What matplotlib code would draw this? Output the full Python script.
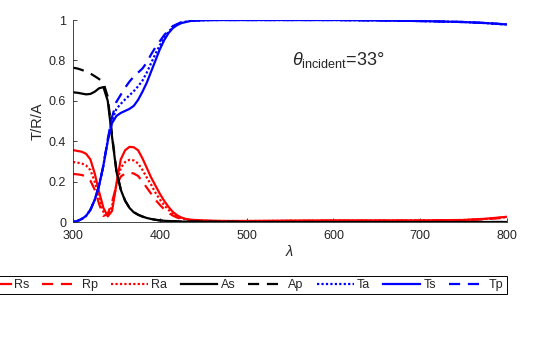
import matplotlib
matplotlib.use("Agg")
import matplotlib.pyplot as plt

plt.rcParams['font.family'] = ['Liberation Sans', 'DejaVu Sans']
plt.rcParams['mathtext.fontset'] = 'custom'
plt.rcParams['mathtext.rm'] = 'Liberation Sans'
plt.rcParams['mathtext.it'] = 'Liberation Sans:italic'

# wavelength grid (nm)
lam = [300, 305, 310, 315, 320, 325, 330, 335, 340, 345, 350, 355, 360, 365,
       370, 375, 380, 385, 390, 395, 400, 405, 410, 415, 420, 425, 430, 435,
       440, 460, 480, 500, 550, 600, 650, 700, 750, 775, 800]

Rs = [0.356, 0.352, 0.348, 0.338, 0.310, 0.240, 0.150, 0.070, 0.028, 0.055,
      0.190, 0.310, 0.355, 0.372, 0.370, 0.355, 0.315, 0.268, 0.220, 0.180,
      0.140, 0.105, 0.075, 0.050, 0.033, 0.022, 0.015, 0.012, 0.010, 0.006,
      0.005, 0.005, 0.007, 0.008, 0.008, 0.008, 0.010, 0.016, 0.026]
Rp = [0.238, 0.236, 0.233, 0.225, 0.205, 0.160, 0.090, 0.030, 0.040, 0.100,
      0.180, 0.225, 0.240, 0.245, 0.240, 0.228, 0.200, 0.170, 0.140, 0.110,
      0.085, 0.063, 0.045, 0.032, 0.022, 0.015, 0.011, 0.008, 0.007, 0.005,
      0.004, 0.004, 0.005, 0.006, 0.006, 0.007, 0.009, 0.014, 0.022]
Ra = [0.297, 0.294, 0.290, 0.280, 0.257, 0.200, 0.120, 0.050, 0.034, 0.078,
      0.185, 0.268, 0.297, 0.308, 0.305, 0.290, 0.258, 0.220, 0.185, 0.145,
      0.112, 0.084, 0.060, 0.041, 0.028, 0.018, 0.013, 0.010, 0.008, 0.005,
      0.005, 0.005, 0.006, 0.007, 0.007, 0.008, 0.010, 0.015, 0.024]
As = [0.642, 0.640, 0.636, 0.632, 0.634, 0.645, 0.662, 0.668, 0.600, 0.420,
      0.250, 0.160, 0.105, 0.070, 0.048, 0.036, 0.027, 0.020, 0.015, 0.011,
      0.008, 0.006, 0.005, 0.004, 0.003, 0.002, 0.002, 0.002, 0.002, 0.001,
      0.001, 0.000, 0.000, 0.000, 0.000, 0.000, 0.000, 0.000, 0.000]
Ap = [0.764, 0.760, 0.753, 0.745, 0.735, 0.722, 0.708, 0.690, 0.620, 0.430,
      0.255, 0.162, 0.106, 0.071, 0.049, 0.036, 0.027, 0.020, 0.015, 0.011,
      0.008, 0.006, 0.005, 0.004, 0.003, 0.002, 0.002, 0.002, 0.002, 0.001,
      0.001, 0.000, 0.000, 0.000, 0.000, 0.000, 0.000, 0.000, 0.000]
Ta = [0.000, 0.005, 0.015, 0.030, 0.060, 0.110, 0.180, 0.280, 0.405, 0.505,
      0.560, 0.585, 0.607, 0.627, 0.648, 0.672, 0.700, 0.740, 0.787, 0.833,
      0.875, 0.912, 0.942, 0.965, 0.978, 0.987, 0.992, 0.996, 0.997, 1.000,
      1.000, 1.000, 1.000, 1.000, 0.998, 0.995, 0.990, 0.985, 0.978]
Ts = [0.000, 0.005, 0.015, 0.030, 0.060, 0.110, 0.180, 0.280, 0.400, 0.490,
      0.525, 0.540, 0.550, 0.560, 0.575, 0.605, 0.645, 0.690, 0.745, 0.800,
      0.855, 0.900, 0.935, 0.960, 0.975, 0.985, 0.990, 0.995, 0.997, 1.000,
      1.000, 1.000, 1.000, 1.000, 0.998, 0.995, 0.990, 0.985, 0.978]
Tp = [0.000, 0.005, 0.015, 0.030, 0.060, 0.110, 0.180, 0.280, 0.410, 0.520,
      0.595, 0.630, 0.665, 0.695, 0.720, 0.740, 0.760, 0.790, 0.830, 0.865,
      0.895, 0.925, 0.950, 0.970, 0.980, 0.990, 0.995, 0.997, 0.998, 1.000,
      1.000, 1.000, 1.000, 1.000, 0.998, 0.995, 0.990, 0.985, 0.978]

grey = '#262626'
lw = 1.6
dash = (5, 3.5)
dot = (1, 1)

fig = plt.figure(figsize=(5.6, 3.37), dpi=100)
ax = fig.add_axes([0.1304, 0.3412, 0.775, 0.5994])

ax.plot(lam, Rs, color='red', lw=lw, label='Rs')
ax.plot(lam, Rp, color='red', lw=lw, dashes=dash, label='Rp')
ax.plot(lam, Ra, color='red', lw=lw, dashes=dot, label='Ra')
ax.plot(lam, As, color='black', lw=lw, label='As')
ax.plot(lam, Ap, color='black', lw=lw, dashes=dash, label='Ap')
ax.plot(lam, Ta, color='blue', lw=lw, dashes=dot, label='Ta')
ax.plot(lam, Ts, color='blue', lw=lw, label='Ts')
ax.plot(lam, Tp, color='blue', lw=lw, dashes=dash, label='Tp')

ax.set_xlim(300, 800)
ax.set_ylim(0, 1)
ax.set_xticks([300, 400, 500, 600, 700, 800])
ax.set_yticks([0, 0.2, 0.4, 0.6, 0.8, 1])
ax.set_yticklabels(['0', '0.2', '0.4', '0.6', '0.8', '1'])
ax.tick_params(direction='in', length=3, width=0.6, colors=grey, labelsize=9)
ax.tick_params(axis='x', pad=6)
ax.tick_params(axis='y', pad=5)
for s in ['top', 'right']:
    ax.spines[s].set_visible(False)
for s in ['left', 'bottom']:
    ax.spines[s].set_color(grey)
    ax.spines[s].set_linewidth(0.6)

ax.set_ylabel('T/R/A', fontsize=10.5, color=grey, labelpad=3)
ax.set_xlabel(r'$\lambda$', fontsize=10.5, color=grey, labelpad=1)

ax.text(552, 0.80, r'$\theta_{\mathrm{incident}}$=33°', fontsize=13,
        color=grey, ha='left', va='center')

leg = fig.legend(loc='upper right', bbox_to_anchor=(0.905, 1 - 276 / 337),
                 bbox_transform=fig.transFigure, ncol=8, fontsize=9,
                 handlelength=2.95, handletextpad=0.25, columnspacing=1.05,
                 borderpad=0.25, borderaxespad=0, fancybox=False,
                 framealpha=1, edgecolor='black')
leg.get_frame().set_linewidth(0.7)
for t in leg.get_texts():
    t.set_color(grey)

fig.savefig('out.png', dpi=100)
